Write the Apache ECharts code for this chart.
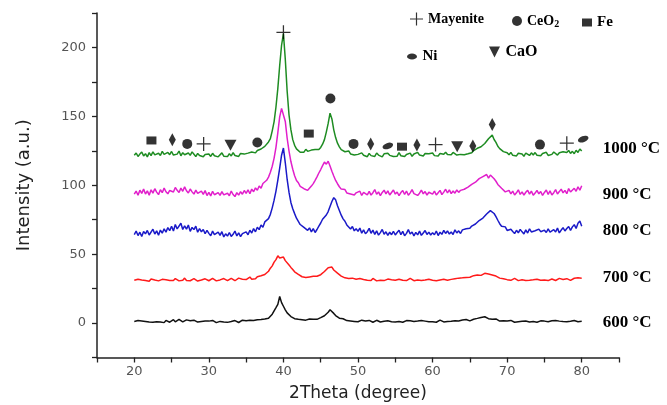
<!DOCTYPE html>
<html><head><meta charset="utf-8">
<script src="https://cdn.jsdelivr.net/npm/echarts@6/dist/echarts.min.js"></script>
<style>html,body{margin:0;padding:0;background:#fff}#c{width:667px;height:405px}</style>
</head><body><div id="c"></div>
<script>
// 2Theta sampling grid (degrees)
const twoTheta = [
20,20.25,20.5,20.75,21,21.25,21.5,21.75,22,22.25,22.5,22.75,23,23.25,23.5,23.75,24,24.25,24.5,24.75,
25,25.25,25.5,25.75,26,26.25,26.5,26.75,27,27.25,27.5,27.75,28,28.25,28.5,28.75,29,29.25,29.5,29.75,
30,30.25,30.5,30.75,31,31.25,31.5,31.75,32,32.25,32.5,32.75,33,33.25,33.5,33.75,34,34.25,34.5,34.75,
35,35.25,35.5,35.75,36,36.25,36.5,36.75,37,37.25,37.5,37.75,38,38.25,38.5,38.75,39,39.25,39.5,39.75,
40,40.25,40.5,40.75,41,41.25,41.5,41.75,42,42.25,42.5,42.75,43,43.25,43.5,43.75,44,44.25,44.5,44.75,
45,45.25,45.5,45.75,46,46.25,46.5,46.75,47,47.25,47.5,47.75,48,48.25,48.5,48.75,49,49.25,49.5,49.75,
50,50.25,50.5,50.75,51,51.25,51.5,51.75,52,52.25,52.5,52.75,53,53.25,53.5,53.75,54,54.25,54.5,54.75,
55,55.25,55.5,55.75,56,56.25,56.5,56.75,57,57.25,57.5,57.75,58,58.25,58.5,58.75,59,59.25,59.5,59.75,
60,60.25,60.5,60.75,61,61.25,61.5,61.75,62,62.25,62.5,62.75,63,63.25,63.5,63.75,64,64.25,64.5,64.75,
65,65.25,65.5,65.75,66,66.25,66.5,66.75,67,67.25,67.5,67.75,68,68.25,68.5,68.75,69,69.25,69.5,69.75,
70,70.25,70.5,70.75,71,71.25,71.5,71.75,72,72.25,72.5,72.75,73,73.25,73.5,73.75,74,74.25,74.5,74.75,
75,75.25,75.5,75.75,76,76.25,76.5,76.75,77,77.25,77.5,77.75,78,78.25,78.5,78.75,79,79.25,79.5,79.75,
80];

const int600 = [
1.2,0.4,1.8,0.9,1.5,0.2,1.1,2.0,0.7,1.3,0.5,1.6,1.0,2.2,0.8,1.4,0.3,1.9,1.1,0.6,
1.7,2.4,0.9,1.5,2.6,1.2,0.8,1.9,2.3,1.0,1.6,0.5,2.1,1.3,0.7,1.8,1.1,0.4,1.5,0.9,
1.4,0.6,1.9,1.0,0.3,1.6,1.2,2.0,0.8,1.3,0.5,1.7,1.1,0.7,1.8,1.2,0.4,1.5,2.1,1.0,
1.6,0.9,2.0,1.3,1.8,1.1,2.4,1.7,2.6,2.1,2.9,2.4,3.5,4.8,6.4,8.9,11.2,13.6,19.3,14.8,
12.2,9.6,7.4,6.1,4.7,4.1,3.2,3.8,2.7,3.1,2.4,2.9,2.1,2.6,3.0,2.3,2.8,3.4,2.7,3.6,
3.9,4.5,5.3,6.4,7.8,9.6,8.2,7.0,5.4,4.6,3.5,2.8,3.1,2.2,1.8,2.4,1.5,2.0,1.2,1.7,
0.9,1.6,2.1,1.0,1.5,0.7,1.9,1.2,0.6,1.4,2.0,1.1,0.8,1.7,1.3,0.5,1.6,2.2,1.0,1.4,
0.8,1.5,1.1,2.0,0.6,1.3,1.8,0.9,1.6,2.3,1.2,0.7,1.5,1.0,1.9,0.5,1.4,1.7,0.9,1.3,
1.0,1.8,0.6,1.4,2.1,1.1,0.8,1.6,1.2,2.0,1.3,0.9,1.7,2.4,1.5,1.1,2.2,1.8,2.6,2.0,
1.6,2.3,2.8,2.2,3.4,2.9,4.1,3.3,4.6,3.8,3.2,3.9,2.7,2.4,3.0,1.9,1.4,2.2,1.6,1.1,
1.5,0.8,1.9,1.2,0.6,1.7,1.0,2.4,1.3,0.9,1.5,2.0,0.7,1.4,1.1,1.8,0.6,1.3,1.6,0.9,
1.4,2.1,1.0,0.7,1.6,1.2,1.9,0.8,1.4,2.0,1.1,1.5,0.9,1.7,1.3,0.6,1.8,1.2,1.0,1.5,
1.3];

const int700 = [
31.0,30.4,31.8,30.7,31.3,32.2,30.9,31.5,30.3,31.9,30.8,31.2,32.4,30.6,31.1,31.7,30.5,31.4,32.0,30.9,
31.6,30.8,32.3,31.2,30.6,31.8,31.1,32.6,30.9,31.4,30.7,31.9,32.2,31.0,30.5,31.6,31.2,30.8,32.1,31.3,
30.7,31.5,32.4,31.0,30.6,31.8,31.3,30.9,32.3,31.4,30.8,31.7,32.5,31.1,30.7,31.9,32.6,31.3,31.8,32.9,
31.6,32.2,33.4,31.8,32.7,32.1,33.6,32.5,34.3,33.8,35.2,36.4,37.6,39.8,41.5,44.2,46.0,48.8,47.2,48.6,
47.9,45.3,44.6,42.1,40.4,38.9,37.2,36.5,35.3,34.8,33.6,34.2,33.1,32.8,33.5,32.6,33.9,33.2,34.0,34.6,
35.1,36.3,37.4,38.8,40.2,39.6,40.6,38.5,37.8,36.2,35.4,34.1,33.5,32.8,33.3,32.4,31.9,32.6,31.5,31.8,
31.2,32.3,30.9,31.6,32.1,31.0,31.7,30.8,32.4,31.3,30.6,31.9,31.1,32.2,30.8,31.5,31.9,30.7,31.4,32.0,
31.1,30.6,31.8,32.3,31.0,31.5,30.8,31.9,32.5,31.2,30.7,31.6,31.3,32.1,30.9,31.7,31.2,30.6,31.8,32.2,
31.0,31.6,30.7,32.0,31.3,30.9,31.8,32.4,31.1,30.8,31.7,31.3,32.2,31.5,32.6,31.9,32.8,32.3,33.1,32.7,
33.2,33.8,34.4,33.6,34.9,35.3,34.6,35.8,36.1,35.2,35.6,34.5,34.9,33.7,34.1,33.2,32.6,33.0,32.2,31.8,
31.5,32.1,31.0,31.7,32.4,31.2,30.8,31.9,31.4,32.2,30.9,31.6,31.1,32.0,31.4,30.7,31.8,32.3,31.0,31.6,
31.2,32.1,30.8,31.5,32.0,31.3,30.9,31.7,32.4,31.1,31.6,30.8,32.2,31.4,31.0,31.9,32.5,31.3,32.8,33.4,
32.6];

const int800 = [
64.2,66.8,63.5,65.9,62.8,66.4,64.7,67.2,63.9,65.3,68.1,64.6,66.9,63.8,67.5,65.2,68.4,66.0,69.3,67.1,
70.2,66.8,71.5,68.3,69.7,72.4,67.9,70.6,68.2,71.1,66.5,69.4,67.8,70.3,65.9,68.6,66.2,67.9,64.8,67.3,
65.1,63.4,66.7,64.2,62.8,65.9,63.6,66.3,62.5,64.8,63.1,65.7,62.9,64.4,66.8,63.2,65.5,62.7,64.9,63.8,
66.2,64.1,67.4,65.3,68.6,66.2,69.5,67.8,71.2,69.6,73.4,72.1,75.8,78.9,83.6,89.2,95.8,103.7,112.4,121.8,
127.0,116.3,104.2,94.8,87.5,82.9,79.4,76.1,74.8,71.5,72.9,69.4,70.8,67.3,69.1,66.2,68.5,65.7,67.9,70.4,
72.6,75.3,74.1,78.4,80.9,84.6,88.2,91.0,89.4,85.1,81.7,78.3,75.6,73.9,71.2,69.8,68.3,70.1,66.9,68.4,
66.5,68.9,65.2,67.6,64.8,66.3,68.7,65.1,67.4,64.3,66.9,63.8,65.6,67.9,64.5,66.2,63.7,65.9,64.1,66.6,
63.9,65.7,67.3,64.2,66.5,63.4,65.1,67.8,64.6,66.1,63.3,65.8,64.0,66.7,63.6,65.4,67.1,64.3,66.0,63.9,
65.6,64.1,66.8,63.5,65.9,64.4,67.2,65.0,66.9,64.6,66.1,64.3,67.7,65.4,66.9,65.0,67.6,66.2,68.4,67.3,
68.8,70.4,69.6,71.9,72.1,74.4,73.6,76.2,77.3,79.1,80.4,81.6,82.3,79.5,77.2,74.6,72.1,70.3,68.9,69.8,
67.2,65.8,68.1,66.4,64.9,67.3,65.5,68.0,66.2,64.7,67.6,65.3,68.4,66.1,64.8,67.0,65.6,68.2,66.3,64.9,
67.4,65.7,68.3,66.0,64.6,67.8,66.1,68.9,65.4,67.5,69.2,66.8,68.6,70.1,67.3,69.8,71.4,68.7,72.5,74.1,
70.3];

const int900 = [
93.5,95.8,92.7,96.4,94.1,97.2,93.6,95.9,92.8,96.7,94.3,97.5,95.0,93.2,96.8,94.6,97.9,95.3,93.8,96.2,
97.6,95.1,98.4,96.3,94.7,97.9,95.6,98.8,96.0,94.4,97.3,95.2,93.6,96.5,94.1,92.8,95.7,93.4,96.1,92.5,
94.8,92.3,95.6,93.1,91.9,94.7,92.6,95.4,93.0,91.7,94.2,92.4,95.8,93.3,91.8,94.6,92.9,95.3,93.5,96.2,
94.1,96.7,93.8,97.2,95.3,98.1,96.4,99.5,97.8,101.3,100.2,103.6,105.9,109.4,113.8,119.7,127.5,138.2,149.6,155.8,
157.2,146.3,134.1,124.8,117.2,111.6,106.9,103.4,101.8,99.2,100.6,97.5,98.9,96.3,97.7,99.4,101.2,103.6,106.1,108.9,
111.4,114.2,116.8,115.3,117.4,113.9,110.2,106.7,103.5,101.1,98.9,97.2,95.8,96.9,94.4,95.6,93.7,95.1,92.9,94.5,
93.2,95.7,92.6,94.9,96.3,93.1,95.5,92.8,94.6,96.9,93.4,95.2,92.5,94.8,96.4,93.7,95.9,92.9,94.3,96.6,
93.6,95.1,92.4,94.7,96.2,93.3,95.8,92.7,94.5,96.8,93.9,95.3,92.6,94.2,96.5,93.8,95.4,92.8,94.9,96.1,
93.5,95.7,92.9,94.6,96.3,93.2,95.0,97.1,94.4,96.6,93.9,95.8,94.2,96.6,94.8,96.3,95.4,97.1,96.4,98.7,
98.1,100.6,99.4,102.2,101.3,104.8,103.6,106.3,105.9,107.8,105.2,107.4,106.4,104.7,102.9,100.6,99.3,97.8,96.4,95.2,
94.6,96.3,93.7,95.8,92.9,94.5,96.7,93.4,95.2,92.8,94.9,96.4,93.6,95.7,92.7,94.3,96.2,93.8,95.5,92.6,
94.8,96.5,93.3,95.9,92.9,94.6,96.8,93.7,95.4,97.2,94.5,96.3,93.9,97.6,95.1,94.2,97.8,95.6,98.9,96.4,
99.7];

const int1000 = [
121.8,123.4,120.9,122.6,124.1,121.3,122.9,120.6,123.7,121.5,124.3,122.0,120.8,123.2,121.6,124.6,122.4,121.1,123.8,122.2,
124.5,121.9,123.3,122.6,124.8,121.4,123.6,122.1,120.9,123.4,121.7,124.2,122.5,120.8,123.1,121.6,122.9,120.7,122.3,121.2,
122.7,120.9,123.2,121.4,122.8,120.6,121.9,123.5,121.1,122.4,120.8,122.9,121.3,123.7,121.6,122.2,120.9,123.1,121.8,122.6,
121.4,123.3,122.0,124.1,122.7,123.5,125.2,124.0,126.3,125.1,128.2,127.6,131.4,133.8,139.5,146.2,156.8,170.3,186.9,201.6,
210.0,191.4,168.2,151.0,140.3,133.1,129.0,126.4,125.4,123.9,125.2,124.0,126.1,124.6,123.3,125.5,124.2,126.0,124.8,125.9,
127.4,129.8,133.1,138.6,144.9,152.3,148.1,140.2,134.6,130.5,127.9,125.8,126.6,124.3,123.5,124.9,122.7,123.8,121.9,123.2,
122.4,121.0,123.5,121.8,122.9,120.7,123.1,121.5,122.6,120.9,123.4,121.9,122.3,120.6,122.8,121.4,123.2,121.7,122.5,120.9,
122.2,121.1,123.6,121.4,122.8,120.8,122.3,121.6,123.3,121.0,122.7,121.5,123.9,121.9,122.4,121.2,123.0,121.7,122.9,122.1,
123.4,121.5,122.8,121.2,123.1,121.8,122.5,124.0,122.3,123.5,122.1,123.8,122.6,121.9,123.0,122.4,123.7,122.2,123.4,122.8,
124.1,123.6,125.2,124.4,126.8,126.1,127.9,128.5,130.3,131.7,133.8,134.5,136.4,133.2,131.1,128.3,126.6,125.2,124.4,123.1,
123.6,122.1,123.8,121.7,122.9,121.3,123.2,121.9,122.6,121.0,123.4,122.2,121.6,123.5,122.0,123.7,121.8,122.8,121.4,123.1,
122.2,123.9,121.6,123.0,122.4,124.1,122.8,121.9,123.6,122.5,124.3,122.9,123.7,125.2,123.1,124.6,122.9,125.4,123.8,126.3,
124.8];

// phase markers [2Theta, intensity]
const mayenitePeaks = [[29.3,130],[40.0,211],[60.4,129.5],[78.0,130.5]];
const ceo2Peaks = [[27.1,130],[36.5,131],[46.3,163],[49.4,130],[74.4,129.5]];
const fePeaks = [[22.3,132.5],[43.4,137.5],[55.9,128]];
const niPeaks = [[54.0,128.5],[80.2,133.5]];
const caoPeaks = [[32.9,129],[63.3,128]];
const otherPeaks = [[25.1,133],[51.7,130],[57.9,129.2],[65.4,128.5],[68.0,144]];

const seriesNames = ['600 °C','700 °C','800 °C','900 °C','1000 °C'];
const seriesValues = [int600,int700,int800,int900,int1000];
const xLabelTicks = [20,30,40,50,60,70,80];
const yLabelTicks = [0,50,100,150,200];

const lineColors = ['#111111','#ff1a1a','#1a1ac8','#e11fcb','#1e8c22'];
const labelOffsets = [[0,1],[0,-1],[0,4],[0,9],[0,-2]];

const plusPath = 'path://M6,0h1.2v6h6v1.2h-6v6h-1.2v-6h-6v-1.2h6z';
const ellipsePath = 'path://M0,3a5,3 0 1,0 10,0a5,3 0 1,0 -10,0Z';
const downTriPath = 'path://M0,0L10,0L5,10Z';

const serif = 'Liberation Serif';
const sans = 'DejaVu Sans';

const lineSeries = seriesValues.map((vals, k) => ({
  type: 'line',
  name: seriesNames[k],
  data: twoTheta.map((x, i) => [x, vals[i]]),
  showSymbol: false,
  symbol: 'none',
  lineStyle: { color: lineColors[k], width: 1.5 },
  itemStyle: { color: lineColors[k] },
  z: 2 + k * 0.01,
  endLabel: {
    show: true,
    formatter: seriesNames[k],
    distance: 21,
    offset: labelOffsets[k],
    color: '#000',
    fontFamily: serif,
    fontWeight: 'bold',
    fontSize: 17
  }
}));

function marker(name, data, symbol, size, rotate) {
  return {
    type: 'scatter', name: name, data: data,
    symbol: symbol, symbolSize: size, symbolRotate: rotate || 0,
    itemStyle: { color: '#000' }, z: 5, silent: true
  };
}

const markerSeries = [
  marker('Mayenite', mayenitePeaks, plusPath, 14),
  marker('CeO2', ceo2Peaks, 'circle', 10),
  marker('Fe', fePeaks, 'rect', [10, 8]),
  marker('Ni', niPeaks, ellipsePath, [11, 6], 20),
  marker('CaO', caoPeaks, downTriPath, [12, 11]),
  marker('other', otherPeaks, 'diamond', [7, 13])
];

const legendText = { fontFamily: serif, fontWeight: 'bold', fontSize: 13, color: '#000',
  rich: { s: { fontFamily: serif, fontWeight: 'bold', fontSize: 10, color: '#000', padding: [6, 0, 0, 0] } } };
function leg(name, left, top, w, h, fs) {
  return {
    data: [name], left: left, top: top, padding: 0, itemWidth: w, itemHeight: h,
    selectedMode: false,
    textStyle: Object.assign({}, legendText, { fontSize: fs || 13 }),
    formatter: n => n === 'CeO2' ? 'CeO{s|2}' : n
  };
}

const option = {
  animation: false,
  backgroundColor: '#fff',
  grid: { left: 97, right: 48, top: 13, bottom: 47.5, containLabel: false, outerBoundsMode: 'none' },
  legend: [
    leg('Mayenite', 410, 12, 13, 13, 14),
    leg('CeO2', 512, 14, 10, 10, 14),
    leg('Fe', 582, 15, 10, 8, 15),
    leg('Ni', 407, 49, 11, 6, 15),
    leg('CaO', 489, 44, 12, 11, 16)
  ],
  xAxis: {
    type: 'value', min: 15, max: 85, interval: 5,
    name: '2Theta (degree)', nameLocation: 'middle', nameGap: 28,
    nameTextStyle: { fontFamily: sans, fontSize: 17, color: '#222' },
    axisLine: { onZero: false, lineStyle: { color: '#222', width: 1.5 } },
    axisTick: { show: true, inside: false, length: 5, lineStyle: { color: '#222', width: 1.3 } },
    axisLabel: { fontFamily: sans, fontSize: 13, color: '#555', margin: 8,
      formatter: v => xLabelTicks.includes(v) ? String(v) : '' },
    splitLine: { show: false }
  },
  yAxis: {
    type: 'value', min: -25, max: 225, interval: 25,
    name: 'Intensity (a.u.)', nameLocation: 'middle', nameGap: 64,
    nameTextStyle: { fontFamily: sans, fontSize: 18, color: '#222' },
    axisLine: { onZero: false, lineStyle: { color: '#222', width: 1.5 } },
    axisTick: { show: true, inside: false, length: 5, lineStyle: { color: '#222', width: 1.3 } },
    axisLabel: { fontFamily: sans, fontSize: 13, color: '#555', margin: 11,
      formatter: v => yLabelTicks.includes(v) ? String(v) : '' },
    splitLine: { show: false }
  },
  series: lineSeries.concat(markerSeries)
};

const chart = echarts.init(document.getElementById('c'), null, { renderer: 'canvas' });
chart.setOption(option);
</script>
</body></html>
